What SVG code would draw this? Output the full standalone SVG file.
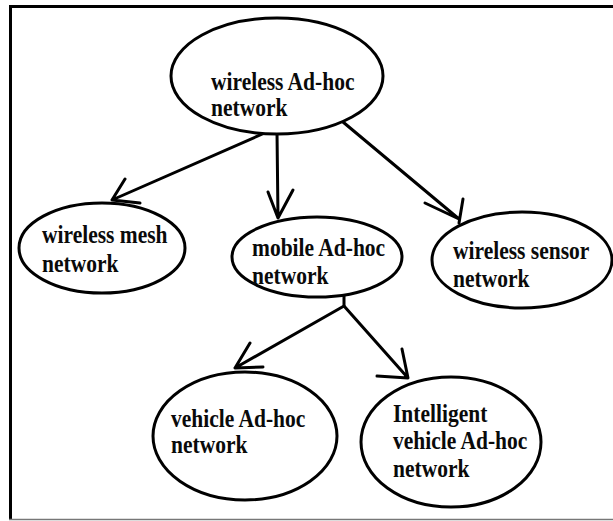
<svg xmlns="http://www.w3.org/2000/svg" width="613" height="521" viewBox="0 0 613 521">
<style>
.node ellipse{fill:#fff;stroke:#000;stroke-width:3}
.node text{font-family:"Liberation Serif","Times New Roman",serif;font-weight:bold;font-size:21.5px;fill:#0a0a0a}
.conn path{fill:none;stroke:#000;stroke-width:3;stroke-linecap:round;stroke-linejoin:round}
</style>
<rect x="0" y="0" width="613" height="521" fill="#fff"/>
<g id="frame">
<line x1="10.5" y1="5" x2="10.5" y2="520" stroke="#000" stroke-width="3"/>
<line x1="9" y1="6.5" x2="613" y2="6.5" stroke="#000" stroke-width="3"/>
<line x1="9" y1="519.5" x2="613" y2="519.5" stroke="#777" stroke-width="1.5"/>
</g>
<g id="connectors" class="conn">
<path d="M267,132 L112,200 M140,203 L112,200 L125,179"/>
<path d="M277,132 L278,218 M268,192 L278,218 L293,190"/>
<path d="M343,122 L459,219 M425,203 L459,219 M463,199 L459,223"/>
<path d="M344,296 L344,306 L235,368 M263,367 L235,368 L250,343"/>
<path d="M344,306 L408,378 M377,376 L408,378 L402,349"/>
</g>
<g id="n-wireless-adhoc" class="node">
<ellipse cx="277" cy="76" rx="106" ry="58"/>
<text transform="translate(211,90) scale(1,1.15)">wireless Ad-hoc</text>
<text transform="translate(211,116) scale(1,1.15)">network</text>
</g>
<g id="n-mesh" class="node">
<ellipse cx="102" cy="248" rx="83" ry="45"/>
<text transform="translate(42,243) scale(1,1.15)">wireless mesh</text>
<text transform="translate(42,272) scale(1,1.15)">network</text>
</g>
<g id="n-mobile" class="node">
<ellipse cx="317" cy="257" rx="85" ry="40"/>
<text transform="translate(252,256) scale(1,1.15)">mobile Ad-hoc</text>
<text transform="translate(252,284) scale(1,1.15)">network</text>
</g>
<g id="n-sensor" class="node">
<ellipse cx="522" cy="260" rx="90" ry="48"/>
<text transform="translate(453,259) scale(1,1.15)">wireless sensor</text>
<text transform="translate(453,287) scale(1,1.15)">network</text>
</g>
<g id="n-vehicle" class="node">
<ellipse cx="245" cy="436" rx="92" ry="64"/>
<text transform="translate(171,427) scale(1,1.15)">vehicle Ad-hoc</text>
<text transform="translate(171,453) scale(1,1.15)">network</text>
</g>
<g id="n-intelligent" class="node">
<ellipse cx="451" cy="442" rx="90" ry="65"/>
<text transform="translate(393,422) scale(1,1.15)">Intelligent</text>
<text transform="translate(393,449) scale(1,1.15)">vehicle Ad-hoc</text>
<text transform="translate(393,477) scale(1,1.15)">network</text>
</g>
</svg>
